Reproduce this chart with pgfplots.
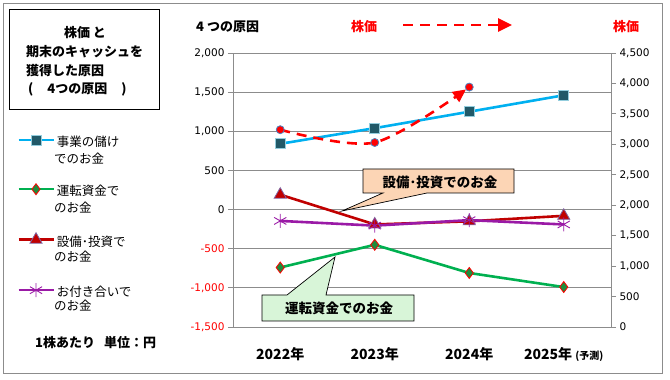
\documentclass[border=0pt]{standalone}
\usepackage{fontspec}
\setmainfont{DejaVu Sans}
\newfontfamily\jp{Noto Sans CJK JP}
\usepackage{pgfplots}
\pgfplotsset{compat=1.18}
\usetikzlibrary{arrows.meta}
\definecolor{cblue}{HTML}{00B0F0}
\definecolor{csq}{HTML}{215968}
\definecolor{csqb}{HTML}{93CDDD}
\definecolor{cgreen}{HTML}{00B050}
\definecolor{cdia}{HTML}{1E8C3C}
\definecolor{cred}{HTML}{C00000}
\definecolor{ctrib}{HTML}{8064A2}
\definecolor{cpur}{HTML}{9A1AA6}
\definecolor{cstkb}{HTML}{4F81BD}
\definecolor{peach}{HTML}{FCD5B5}
\definecolor{lgreen}{HTML}{D8F5D8}
\definecolor{frame}{HTML}{8C8C8C}
\begin{document}
\begin{tikzpicture}[x=1pt,y=1pt]
\path[use as bounding box] (0,0) rectangle (670,380);
\draw[frame, line width=1pt] (3,6) rectangle (662,376);
% title box
\draw[black, line width=0.8pt] (9,271) rectangle (159,371);
\begin{scope}[every node/.style={font=\jp\bfseries\fontsize{13}{15}\selectfont, inner sep=0pt}]
\node[anchor=base] at (85,342) {株価 と};
\node[anchor=base west] at (26,323) {期末のキャッシュを};
\node[anchor=base west] at (26,304) {獲得した原因};
\node[anchor=base west] at (28,286) {(\hspace{14pt}4つの原因\hspace{14pt})};
\node[anchor=base west] at (35,32) {1株あたり\ \ \ 単位：円};
\node[anchor=base west] at (196,348) {4 つの原因};
\node[anchor=base west, text=red] at (351,348) {株価};
\node[anchor=base west, text=red] at (613,348) {株価};
\end{scope}
\draw[red, line width=2.6pt, dash pattern=on 10pt off 7pt, -{Triangle[length=14pt,width=13pt]}] (403,355) -- (512,355);
% legend second lines
\begin{scope}[every node/.style={font=\jp\fontsize{12.5}{15}\selectfont, inner sep=0pt, anchor=base west}]
\node at (54,216.5) {でのお金};
\node at (54,167.5) {のお金};
\node at (54,118.5) {のお金};
\node at (54,69.5) {のお金};
\end{scope}
\begin{axis}[
  at={(233pt,53pt)}, anchor=south west, scale only axis,
  width=378pt, height=274pt,
  xmin=-0.5, xmax=3.5, ymin=-1500, ymax=2000,
  axis y line*=left, axis x line*=bottom,
  axis line style={-, draw=frame, line width=0.8pt},
  xtick={0,1,2,3},
  xticklabels={2022年,2023年,2024年,{2025年 {\fontsize{10}{12}\selectfont(予測)}}},
  xtick style={draw=none},
  xticklabel style={font=\jp\bfseries\fontsize{14}{16}\selectfont, yshift=-12pt},
  ytick={-1500,-1000,-500,0,500,1000,1500,2000},
  yticklabels={\textcolor{red}{-1,500},\textcolor{red}{-1,000},\textcolor{red}{-500},0,500,{1,000},{1,500},{2,000}},
  yticklabel style={font=\fontsize{10.5}{12}\selectfont},
  tick align=outside, major tick length=5pt,
  ytick style={draw=frame, line width=0.8pt},
  ymajorgrids, grid style={frame, line width=0.8pt},
  legend style={at={(axis description cs:-0.5714,0.7026)}, anchor=north west,
    draw=none, fill=none, inner sep=0pt, row sep=29pt, column sep=2pt,
    nodes={inner sep=0pt, font=\jp\fontsize{12.5}{15}\selectfont, text height=12pt, text depth=8pt}},
  legend cell align=left,
  legend image code/.code={\draw[mark repeat=2,mark phase=2,#1,line width=2.6pt] plot coordinates {(0pt,4.5pt)(17.5pt,4.5pt)(35pt,4.5pt)};},
]
\addplot[cblue, line width=2.6pt, mark=square*, mark size=5pt,
  mark options={fill=csq, draw=csqb, line width=1pt, solid}]
  coordinates {(0,840)(1,1040)(2,1250)(3,1460)};
\addlegendentry{事業の儲け}
\addplot[cgreen, line width=2.6pt, mark=diamond*, mark size=5.5pt,
  mark options={fill=cdia, draw=red, line width=0.8pt, solid}]
  coordinates {(0,-740)(1,-450)(2,-810)(3,-990)};
\addlegendentry{運転資金で}
\addplot[cred, line width=2.6pt, mark=triangle*, mark size=7pt,
  mark options={fill=cred, draw=ctrib, line width=0.8pt, solid}]
  coordinates {(0,190)(1,-190)(2,-150)(3,-80)};
\addlegendentry{設備･投資で}
\addplot[cpur, line width=2.6pt, mark=asterisk, mark size=7pt,
  mark options={draw=cpur, line width=0.9pt, solid}]
  coordinates {(0,-145)(1,-205)(2,-135)(3,-190)};
\addlegendentry{お付き合いで}
\end{axis}
\begin{axis}[
  at={(233pt,53pt)}, anchor=south west, scale only axis,
  width=378pt, height=274pt,
  xmin=-0.5, xmax=3.5, ymin=0, ymax=4500,
  axis y line*=right, axis x line=none,
  axis line style={-, draw=frame, line width=0.8pt},
  ytick={0,500,1000,1500,2000,2500,3000,3500,4000,4500},
  yticklabels={0,500,{1,000},{1,500},{2,000},{2,500},{3,000},{3,500},{4,000},{4,500}},
  yticklabel style={font=\fontsize{10.5}{12}\selectfont},
  tick align=outside, major tick length=5pt,
  ytick style={draw=frame, line width=0.8pt},
]
\addplot[red, line width=2.6pt, dash pattern=on 10pt off 7pt, smooth,
  -{Triangle[length=13pt,width=12pt]}, shorten >=4pt,
  mark=*, mark size=4pt, mark options={fill=red, draw=cstkb, line width=0.8pt, solid}]
  coordinates {(0,3240)(1,3030)(2,3940)};
\end{axis}
% callouts
\draw[black, line width=0.7pt, fill=peach] (363,211) -- (514,211) -- (514,187) -- (427,187) -- (342,169) -- (383,187) -- (363,187) -- cycle;
\node[font=\jp\bfseries\fontsize{13.5}{15}\selectfont, inner sep=0pt] at (440,198) {設備･投資でのお金};
\draw[black, line width=0.7pt, fill=lgreen] (262,85) -- (287,85) -- (335,123) -- (326,85) -- (414,85) -- (414,59) -- (262,59) -- cycle;
\node[font=\jp\bfseries\fontsize{13.5}{15}\selectfont, inner sep=0pt] at (339,72) {運転資金でのお金};
\end{tikzpicture}
\end{document}
